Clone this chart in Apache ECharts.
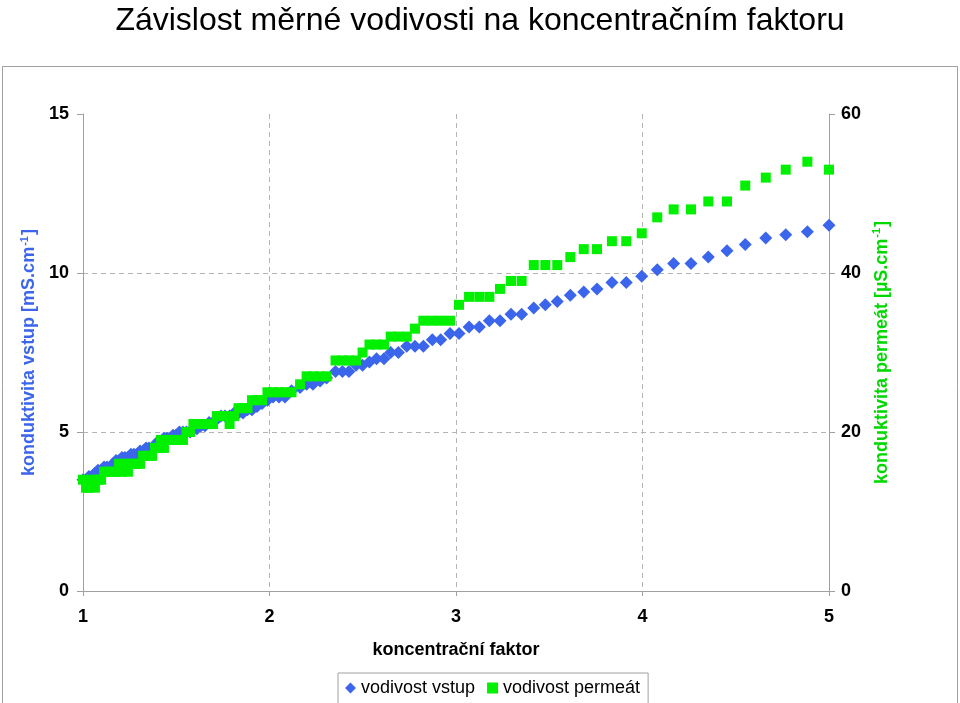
<!DOCTYPE html>
<html><head><meta charset="utf-8">
<script src="https://cdn.jsdelivr.net/npm/echarts@6/dist/echarts.min.js"></script>
<style>html,body{margin:0;padding:0;background:#fff}#c{width:960px;height:703px}</style>
</head><body><div id="c"></div>
<script>
const titleText = 'Závislost měrné vodivosti na koncentračním faktoru';
const xName = 'koncentrační faktor';
const seriesNames = ['vodivost vstup', 'vodivost permeát'];
const leftRange = [0, 15, 5];
const rightRange = [0, 60, 20];
const xRange = [1, 5, 1];

const factor = [
 1.000,1.016,1.032,1.048,1.064,1.080,1.097,1.113,1.129,1.145,1.161,1.177,1.193,1.209,1.225,1.241,
 1.257,1.273,1.290,1.306,1.322,1.338,1.354,1.370,1.386,1.402,1.418,1.434,1.450,1.466,1.483,1.499,
 1.517,1.536,1.555,1.574,1.592,1.611,
 1.633,1.654,1.676,1.697,1.718,1.740,1.761,
 1.786,1.810,1.834,1.858,1.882,1.906,
 1.933,1.960,1.989,2.019,2.051,2.083,2.118,
 2.164,2.199,2.233,2.271,2.306,
 2.354,2.391,2.426,2.464,2.499,2.536,2.574,2.614,
 2.650,2.691,2.736,2.780,2.825,2.873,2.918,2.968,3.016,
 3.070,3.125,3.179,3.236,3.295,3.352,3.417,3.479,3.543,3.613,3.685,3.756,3.836,3.913,3.996,
 4.079,4.167,4.260,4.353,4.453,4.551,4.661,4.768,4.884,5.000
];
const vstup = [
 3.5,3.5,3.6,3.6,3.7,3.8,3.8,3.9,3.9,3.9,4.0,4.1,4.1,4.2,4.2,4.2,
 4.3,4.3,4.3,4.4,4.4,4.5,4.5,4.5,4.6,4.7,4.7,4.8,4.8,4.8,4.9,4.9,
 5.0,5.0,5.0,5.0,5.1,5.1,
 5.2,5.2,5.3,5.3,5.4,5.5,5.5,
 5.5,5.6,5.6,5.6,5.7,5.7,
 5.8,5.9,6.0,6.1,6.1,6.1,6.3,
 6.4,6.5,6.5,6.6,6.7,
 6.9,6.9,6.9,7.1,7.1,7.2,7.3,7.3,
 7.5,7.5,7.7,7.7,7.7,7.9,7.9,8.1,8.1,
 8.3,8.3,8.5,8.5,8.7,8.7,8.9,9.0,9.1,9.3,9.4,9.5,9.7,9.7,9.9,
 10.1,10.3,10.3,10.5,10.7,10.9,11.1,11.2,11.3,11.5
];
const permeat = [
 14,13,13,14,13,14,14,15,15,15,15,15,16,15,16,15,
 16,16,16,16,17,17,17,17,18,18,19,18,19,19,19,19,
 19,19,20,20,21,21,
 21,21,21,21,22,22,22,
 21,22,23,23,23,24,
 24,24,25,25,25,25,25,
 26,27,27,27,27,
 29,29,29,29,30,31,31,31,
 32,32,32,33,34,34,34,34,36,
 37,37,37,38,39,39,41,41,41,42,43,43,44,44,45,
 47,48,48,49,49,51,52,53,54,53
];

const BLUE = '#3b66ec';
const GREEN = '#00f000';
const GREEN_TXT = '#00d800';
const FONT = 'Liberation Sans, Arial, sans-serif';

const chart = echarts.init(document.getElementById('c'), null, {renderer: 'canvas'});
const axisLabelStyle = {color: '#000', fontSize: 18, fontWeight: 'bold', fontFamily: FONT};
chart.setOption({
  animation: false,
  backgroundColor: '#fff',
  title: {
    text: titleText, left: 'center', top: 0,
    textStyle: {fontSize: 32, fontWeight: 'normal', color: '#000', fontFamily: FONT}
  },
  graphic: [{
    type: 'rect', shape: {x: 2.5, y: 66.5, width: 955, height: 700},
    style: {fill: 'none', stroke: '#a0a0a0', lineWidth: 1}, z: -10
  }],
  grid: {left: 83, right: 131, top: 114, bottom: 112},
  legend: {
    left: 338, top: 673, orient: 'horizontal',
    itemWidth: 11, itemHeight: 11, itemGap: 12,
    padding: [6, 8, 10, 7],
    borderColor: '#a0a0a0', borderWidth: 1,
    textStyle: {fontSize: 18, color: '#000', fontFamily: FONT},
    data: [{name: seriesNames[0], icon: 'diamond'}, {name: seriesNames[1], icon: 'rect'}]
  },
  xAxis: {
    type: 'value', min: xRange[0], max: xRange[1], interval: xRange[2],
    name: xName, nameLocation: 'middle', nameGap: 50,
    nameTextStyle: {fontSize: 18, fontWeight: 'bold', color: '#000', fontFamily: FONT},
    axisLine: {show: true, lineStyle: {color: '#a0a0a0'}},
    axisTick: {show: true, length: 5, lineStyle: {color: '#a0a0a0'}},
    axisLabel: Object.assign({margin: 17}, axisLabelStyle),
    splitLine: {show: true, showMinLine: false, showMaxLine: false, lineStyle: {color: '#b4b4b4', type: [5, 4]}}
  },
  yAxis: [{
    type: 'value', min: leftRange[0], max: leftRange[1], interval: leftRange[2], position: 'left',
    name: '{t|konduktivita vstup [mS.cm}{s|-1}{t|]}', nameLocation: 'middle', nameGap: 44, nameRotate: 90,
    nameTextStyle: {rich: {
      t: {fontSize: 18, fontWeight: 'bold', color: BLUE, fontFamily: FONT, lineHeight: 20},
      s: {fontSize: 11, fontWeight: 'bold', color: BLUE, fontFamily: FONT, verticalAlign: 'top', lineHeight: 20, padding: [0, 1, 0, 1]}
    }},
    axisLine: {show: true, lineStyle: {color: '#a0a0a0'}},
    axisTick: {show: true, length: 6, lineStyle: {color: '#a0a0a0'}},
    axisLabel: Object.assign({margin: 14}, axisLabelStyle),
    splitLine: {show: true, showMinLine: false, showMaxLine: false, lineStyle: {color: '#b4b4b4', type: [5, 4]}}
  }, {
    type: 'value', min: rightRange[0], max: rightRange[1], interval: rightRange[2], position: 'right',
    name: '{t|konduktivita permeát [µS.cm}{s|-1}{t|]}', nameLocation: 'middle', nameGap: 42, nameRotate: 90,
    nameTextStyle: {rich: {
      t: {fontSize: 18, fontWeight: 'bold', color: GREEN_TXT, fontFamily: FONT, lineHeight: 20},
      s: {fontSize: 11, fontWeight: 'bold', color: GREEN_TXT, fontFamily: FONT, verticalAlign: 'top', lineHeight: 20, padding: [0, 1, 0, 1]}
    }},
    axisLine: {show: true, lineStyle: {color: '#a0a0a0'}},
    axisTick: {show: true, length: 6, lineStyle: {color: '#a0a0a0'}},
    axisLabel: Object.assign({margin: 12}, axisLabelStyle),
    splitLine: {show: false}
  }],
  series: [{
    name: seriesNames[0], type: 'scatter', yAxisIndex: 0,
    symbol: 'diamond', symbolSize: 13,
    itemStyle: {color: BLUE, opacity: 1},
    data: factor.map((f, i) => [f, vstup[i]]), z: 2
  }, {
    name: seriesNames[1], type: 'scatter', yAxisIndex: 1,
    symbol: 'rect', symbolSize: 10,
    itemStyle: {color: GREEN, opacity: 1},
    data: factor.map((f, i) => [f, permeat[i]]), z: 3
  }]
});
</script></body></html>
